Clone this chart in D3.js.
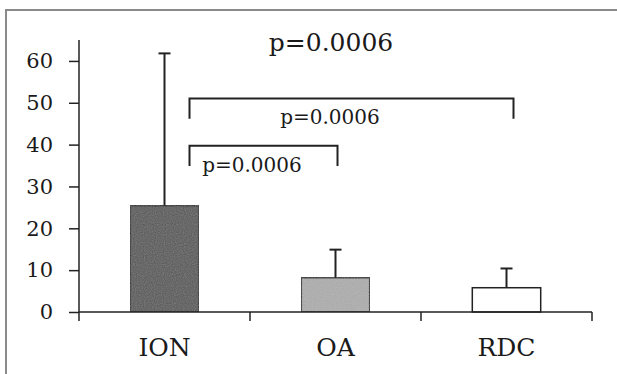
<!DOCTYPE html>
<html>
<head>
  <meta charset="utf-8">
  <title>ION / OA / RDC</title>
  <style>
    body { margin: 0; background: #fff; overflow: hidden; }
    svg { display: block; }
    text { font-family: "DejaVu Serif", "Liberation Serif", serif; fill: #1a1a1a; }
  </style>
</head>
<body>
  <svg id="chart"></svg>

  <script src="https://d3js.org/d3.v7.min.js"></script>
  <script>
    // data
    const groups = ["ION", "OA", "RDC"];
    const means = [25.4, 8.2, 5.8];
    const errTop = [61.8, 14.9, 10.4];
    const fills = ["#555555", "#adadad", "#ffffff"];
    const yTicks = [0, 10, 20, 30, 40, 50, 60];
    const pTop = "p=0.0006";
    const pPairs = [
      { a: "ION", b: "RDC", label: "p=0.0006" },
      { a: "ION", b: "OA", label: "p=0.0006" }
    ];

    const width = 617;
    const height = 374;

    const svg = d3.select("#chart")
      .attr("width", width)
      .attr("height", height);

    // outer frame: only left and top edges are inside the picture
    svg.append("path")
      .attr("d", `M6,${height + 2}V10H${width + 2}`)
      .attr("fill", "none")
      .attr("stroke", "#8a8a8a")
      .attr("stroke-width", 2);

    const x = d3.scaleBand()
      .domain(groups)
      .range([79, 592])
      .paddingInner(0.6)
      .paddingOuter(0.3);

    const y = d3.scaleLinear()
      .domain([0, 65])
      .range([312, 40]);

    const cx = g => x(g) + x.bandwidth() / 2;

    // noisy texture like the scanned original
    const defs = svg.append("defs");
    const grain = defs.append("filter").attr("id", "grain")
      .attr("x", 0).attr("y", 0).attr("width", 1).attr("height", 1);
    grain.append("feTurbulence")
      .attr("type", "fractalNoise").attr("baseFrequency", 0.9)
      .attr("numOctaves", 1).attr("seed", 3).attr("result", "n");
    grain.append("feColorMatrix").attr("in", "n").attr("type", "saturate")
      .attr("values", 0).attr("result", "g");
    grain.append("feComponentTransfer").attr("in", "g").attr("result", "a")
      .append("feFuncA").attr("type", "table").attr("tableValues", "0 0.25");
    grain.append("feComposite").attr("in", "a").attr("in2", "SourceGraphic")
      .attr("operator", "atop");

    // bars
    svg.selectAll(".bar")
      .data(groups)
      .enter().append("rect")
      .attr("class", "bar")
      .attr("x", d => x(d))
      .attr("y", (d, i) => y(means[i]))
      .attr("width", x.bandwidth())
      .attr("height", (d, i) => y(0) - y(means[i]))
      .attr("fill", (d, i) => fills[i])
      .attr("filter", (d, i) => i < 2 ? "url(#grain)" : null)
      .attr("stroke", "#222")
      .attr("stroke-width", 1.5);

    // error bars (upper only)
    groups.forEach((g, i) => {
      svg.append("line")
        .attr("x1", cx(g)).attr("x2", cx(g))
        .attr("y1", y(means[i])).attr("y2", y(errTop[i]))
        .attr("stroke", "#222").attr("stroke-width", 2);
      svg.append("line")
        .attr("x1", cx(g) - 6).attr("x2", cx(g) + 6)
        .attr("y1", y(errTop[i])).attr("y2", y(errTop[i]))
        .attr("stroke", "#222").attr("stroke-width", 2);
    });

    // y axis
    const yAxis = svg.append("g")
      .attr("transform", "translate(79,0)")
      .call(d3.axisLeft(y).tickValues(yTicks).tickSize(10).tickPadding(16).tickSizeOuter(0));
    yAxis.select(".domain").attr("stroke", "#222").attr("stroke-width", 1.5)
      .attr("d", `M0,${y(65)}V${y(0) + 9}`);
    yAxis.selectAll(".tick line").attr("stroke", "#222").attr("stroke-width", 1.5);
    yAxis.selectAll(".tick text")
      .style("font-size", "21px")
      .style("font-family", "'DejaVu Serif', serif")
      .attr("fill", "#1a1a1a");

    // x axis with ticks between categories
    const xAxisG = svg.append("g");
    xAxisG.append("line")
      .attr("x1", 79).attr("x2", 592)
      .attr("y1", y(0)).attr("y2", y(0))
      .attr("stroke", "#222").attr("stroke-width", 1.5);
    xAxisG.selectAll(".xtick")
      .data(groups)
      .enter().append("line")
      .attr("x1", d => x(d) + x.bandwidth() / 2 + x.step() / 2)
      .attr("x2", d => x(d) + x.bandwidth() / 2 + x.step() / 2)
      .attr("y1", y(0)).attr("y2", y(0) + 9)
      .attr("stroke", "#222").attr("stroke-width", 1.5);
    xAxisG.selectAll(".xlab")
      .data(groups)
      .enter().append("text")
      .attr("x", d => cx(d))
      .attr("y", 356)
      .attr("text-anchor", "middle")
      .style("font-size", "25px")
      .text(d => d);

    // overall p value
    svg.append("text")
      .attr("x", 331).attr("y", 51)
      .attr("text-anchor", "middle")
      .style("font-size", "25px")
      .text(pTop);

    // pairwise brackets
    const bracketLevels = [
      { top: 51, drop: 46.2, right: 7, labelY: 124, labelX: 330 },
      { top: 39.7, drop: 34.9, right: 2, labelY: 172, labelX: 252 }
    ];
    pPairs.forEach((p, i) => {
      const b = bracketLevels[i];
      const x0 = cx(p.a) + 25;
      const x1 = cx(p.b) + b.right;
      svg.append("path")
        .attr("d", `M${x0},${y(b.drop)}V${y(b.top)}H${x1}V${y(b.drop)}`)
        .attr("fill", "none")
        .attr("stroke", "#222")
        .attr("stroke-width", 2);
      svg.append("text")
        .attr("x", b.labelX).attr("y", b.labelY)
        .attr("text-anchor", "middle")
        .style("font-size", "20px")
        .text(p.label);
    });
  </script>
</body>
</html>
